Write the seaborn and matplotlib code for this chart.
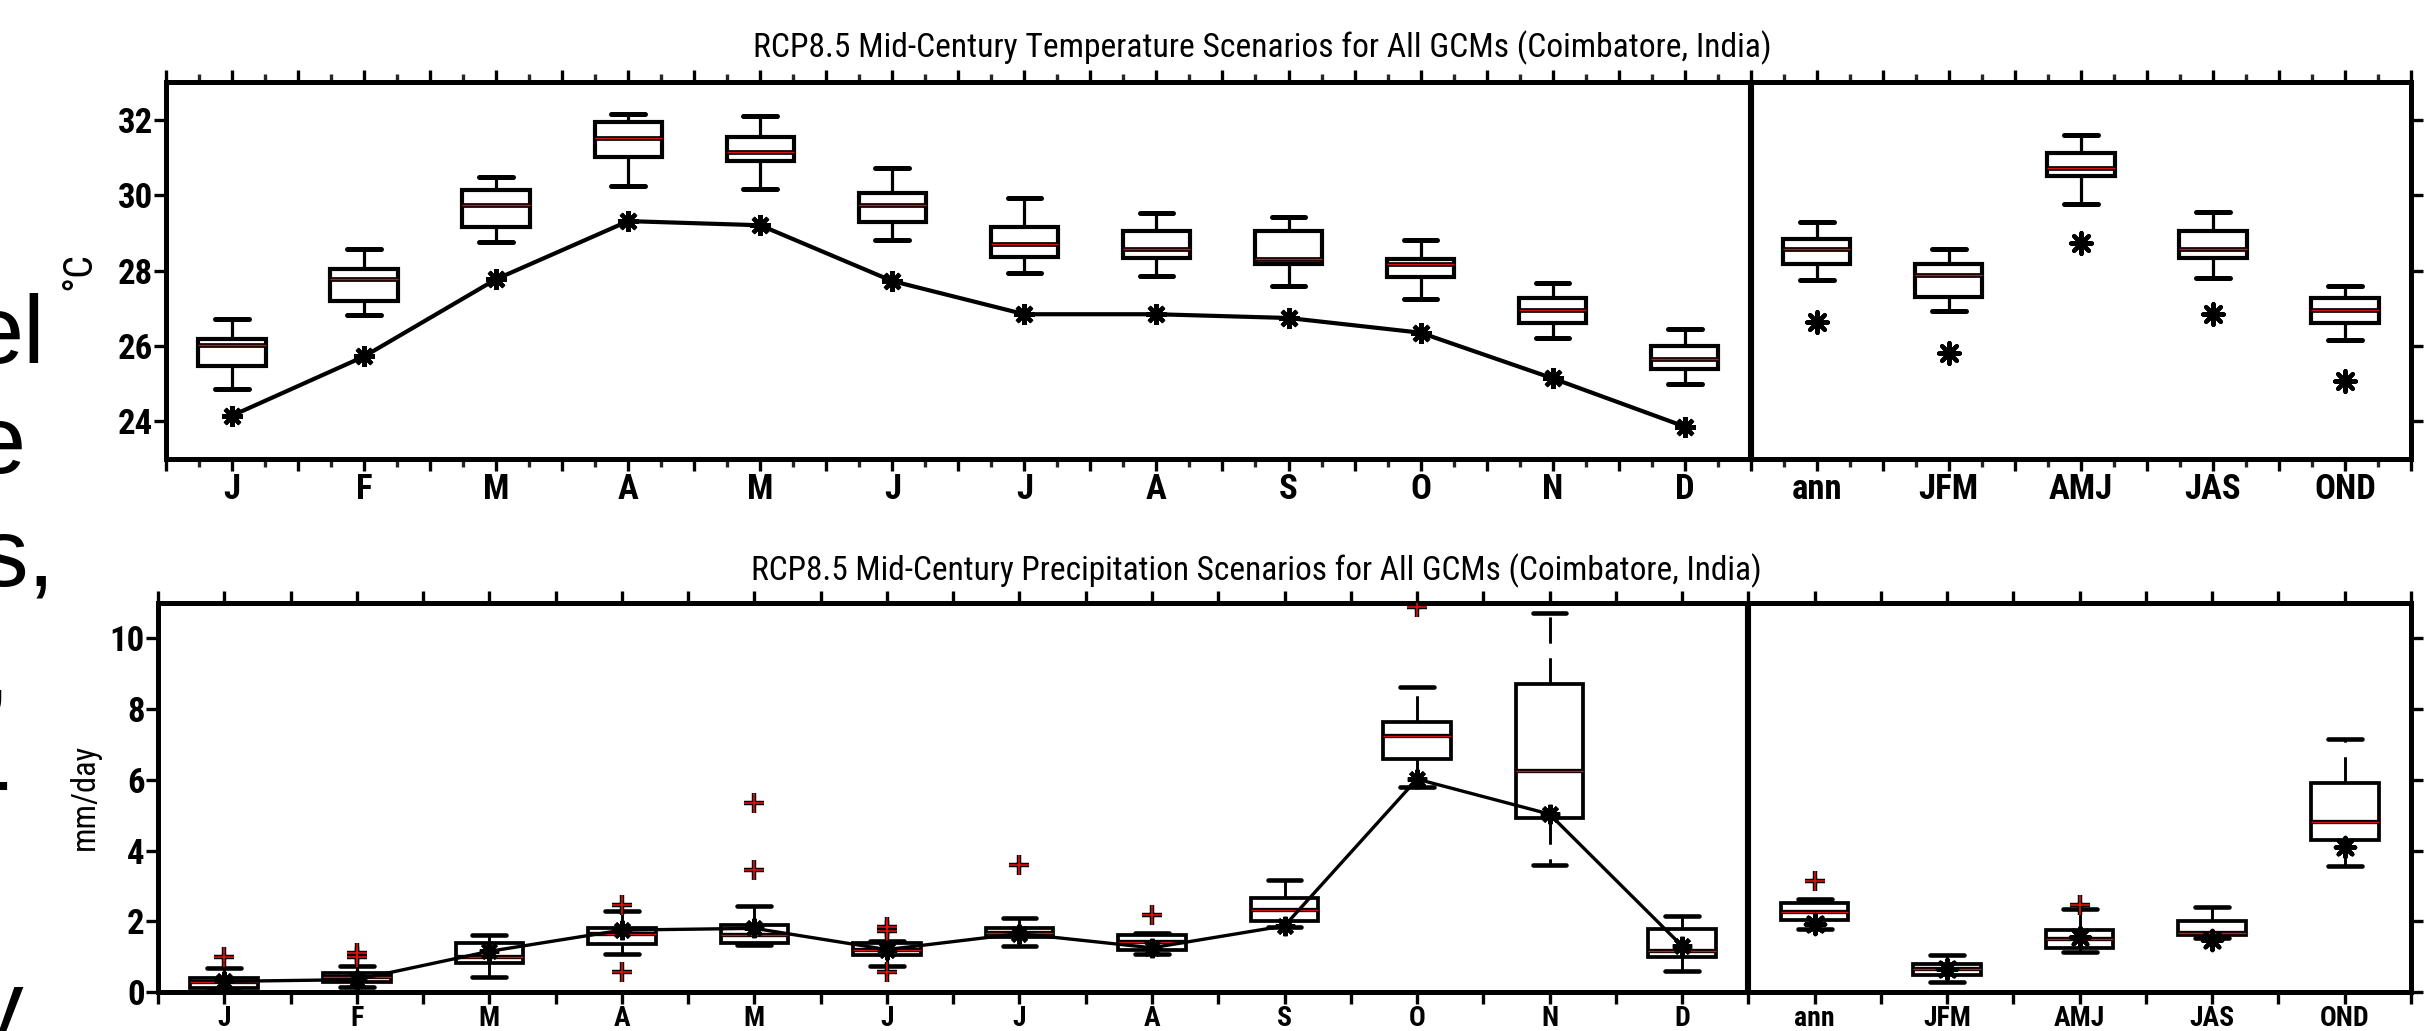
import numpy as np
import pandas as pd
import matplotlib
matplotlib.use("Agg")
import matplotlib.pyplot as plt
from matplotlib import font_manager as fm
import seaborn as sns

# ---------------------------------------------------------------- categories
categories = ["J", "F", "M", "A", "M", "J", "J", "A", "S", "O", "N", "D",
              "ann", "JFM", "AMJ", "JAS", "OND"]
n_months = 12

# ------------------------------------------- temperature (deg C), GCM spread
temp_lo = [24.85, 26.81, 28.76, 30.24, 30.16, 28.82, 27.93, 27.85, 27.59, 27.24, 26.20, 25.00,
           27.74, 26.92, 29.77, 27.80, 26.15]
temp_q1 = [25.46, 27.19, 29.15, 31.00, 30.91, 29.28, 28.36, 28.33, 28.17, 27.83, 26.60, 25.40,
           28.17, 27.31, 30.51, 28.33, 26.60]
temp_med = [26.02, 27.77, 29.74, 31.52, 31.13, 29.73, 28.70, 28.57, 28.30, 28.17, 26.94, 25.64,
            28.56, 27.88, 30.72, 28.56, 26.94]
temp_q3 = [26.18, 28.04, 30.14, 31.95, 31.53, 30.05, 29.15, 29.05, 29.05, 28.30, 27.27, 25.99,
           28.83, 28.17, 31.12, 29.05, 27.27]
temp_hi = [26.71, 28.57, 30.47, 32.15, 32.09, 30.73, 29.93, 29.52, 29.42, 28.81, 27.67, 26.44,
           29.29, 28.56, 31.60, 29.55, 27.59]
temp_obs = [24.15, 25.72, 27.77, 29.31, 29.20, 27.72, 26.84, 26.84, 26.74, 26.35, 25.14, 23.86,
            26.63, 25.80, 28.72, 26.84, 25.06]

# ------------------------------------------ precipitation (mm/day), GCM spread
prec_lo = [0.03, 0.14, 0.43, 1.08, 1.33, 0.73, 1.30, 1.08, 1.85, 5.79, 3.60, 0.58,
           1.79, 0.28, 1.13, 1.53, 3.57]
prec_q1 = [0.11, 0.27, 0.83, 1.35, 1.38, 1.06, 1.55, 1.20, 2.01, 6.58, 4.93, 0.99,
           2.04, 0.47, 1.25, 1.60, 4.29]
prec_med = [0.28, 0.43, 0.99, 1.65, 1.62, 1.20, 1.68, 1.40, 2.31, 7.24, 6.25, 1.17,
            2.27, 0.66, 1.50, 1.67, 4.81]
prec_q3 = [0.40, 0.53, 1.38, 1.81, 1.90, 1.38, 1.81, 1.60, 2.66, 7.63, 8.70, 1.78,
           2.53, 0.79, 1.74, 2.02, 5.91]
prec_hi = [0.68, 0.73, 1.60, 2.30, 2.42, 1.45, 2.09, 1.68, 3.18, 8.62, 10.72, 2.16,
           2.64, 1.06, 2.35, 2.41, 7.16]
prec_obs = [0.30, 0.35, 1.15, 1.75, 1.80, 1.20, 1.65, 1.25, 1.87, 6.02, 5.03, 1.30,
            1.92, 0.64, 1.55, 1.48, 4.09]
# outlying GCMs: category number (1-based) and value
prec_out_pos = [1, 2, 2, 4, 4, 5, 5, 6, 6, 6, 7, 8, 10, 13, 15]
prec_out_val = [0.98, 0.98, 1.10, 2.47, 0.56, 3.45, 5.35, 1.72, 1.85, 0.56, 3.60, 2.17, 10.90,
                3.15, 2.47]

temp_title = "RCP8.5 Mid-Century Temperature Scenarios for All GCMs (Coimbatore, India)"
prec_title = "RCP8.5 Mid-Century Precipitation Scenarios for All GCMs (Coimbatore, India)"

# ------------------------------------------------------------------- styling
sns.set_style("ticks")


def pick_narrow_font():
    """Return (family, stretch) of a narrow sans face if one is installed."""
    entries = fm.fontManager.ttflist
    names = {f.name for f in entries}
    for name in ["Liberation Sans Narrow", "Arial Narrow", "Roboto Condensed",
                 "Open Sans Condensed", "Noto Sans Condensed"]:
        if name in names:
            return name, "normal"
    for fam in ["Liberation Sans", "Noto Sans", "Roboto", "Open Sans", "DejaVu Sans"]:
        for st in ["condensed", "semi-condensed"]:
            if any(f.name == fam and f.stretch == st for f in entries):
                return fam, st
    return "Liberation Sans", "normal"


NARROW_FAMILY, NARROW_STRETCH = pick_narrow_font()
FAMILIES = [NARROW_FAMILY, "Liberation Sans", "DejaVu Sans"]
plt.rcParams["font.family"] = FAMILIES
plt.rcParams["font.stretch"] = NARROW_STRETCH

W, H = 2431, 1031
fig = plt.figure(figsize=(W / 100, H / 100), dpi=100)
fig.patch.set_facecolor("white")


def px_axes(left, top, right, bottom):
    return fig.add_axes([left / W, 1 - bottom / H, (right - left) / W, (bottom - top) / H])


ax_t = px_axes(166, 82, 2411, 459)
ax_p = px_axes(158, 603, 2411, 992)


def summary_frame(lo, q1, med, q3, hi):
    pos = np.arange(1, len(lo) + 1)
    return pd.DataFrame({
        "pos": np.repeat(pos, 5),
        "value": np.column_stack([lo, q1, med, q3, hi]).ravel(),
    })


def draw_boxes(ax, frame, lw_box, lw_whisk):
    common = dict(data=frame, x="pos", y="value", native_scale=True, width=0.51,
                  whis=(0, 100), showfliers=False, ax=ax)
    sns.boxplot(**common, fill=True, color="white", linecolor="black", linewidth=lw_box,
                whiskerprops=dict(linewidth=lw_whisk, linestyle=(0, (9, 5))),
                capprops=dict(linewidth=lw_box + 0.6),
                medianprops=dict(linewidth=lw_box + 0.4, color="black"))
    # thin red core on each median line
    sns.boxplot(**common, fill=True, color="white", linecolor="#d41414", linewidth=1.0,
                showbox=False, showcaps=False,
                whiskerprops=dict(linewidth=0),
                medianprops=dict(linewidth=1.0, color="#d41414"))


def draw_obs(ax, obs, lw, ms):
    month_pos = np.arange(1, n_months + 1)
    season_pos = np.arange(n_months + 1, len(categories) + 1)
    sns.lineplot(x=month_pos, y=obs[:n_months], ax=ax, color="black", linewidth=lw,
                 marker=(8, 2, 0), markersize=ms, markeredgewidth=3.0,
                 markeredgecolor="black", zorder=5)
    sns.scatterplot(x=season_pos, y=obs[n_months:], ax=ax, marker=(8, 2, 0),
                    s=ms ** 2, color="black", linewidth=3.0, zorder=5, legend=False)


def style_axes(ax, ylim, yticks, quarter_ticks, major_len, xlabel_size):
    ax.set_xlim(0.5, len(categories) + 0.5)
    ax.set_ylim(*ylim)
    ax.set_xlabel("")
    ax.set_ylabel("")
    halves = np.arange(0.5, len(categories) + 0.51, 0.5)
    ax.set_xticks(halves)
    ax.set_xticklabels([categories[int(h) - 1] if float(h).is_integer() else "" for h in halves])
    if quarter_ticks:
        ax.set_xticks(np.arange(0.75, len(categories) + 0.5, 0.5), minor=True)
    else:
        ax.set_xticks([], minor=True)
    ax.set_yticks(yticks)
    ax.set_yticklabels([str(v) for v in yticks])
    ax.tick_params(axis="x", which="major", direction="out", length=major_len, width=2.4,
                   top=True, bottom=True, labeltop=False, labelsize=xlabel_size, pad=1,
                   colors="black")
    ax.tick_params(axis="x", which="minor", direction="out", length=5.8, width=2.4,
                   top=True, bottom=True)
    ax.tick_params(axis="y", which="major", direction="out", length=8.6, width=2.4,
                   left=True, right=True, labelright=False, labelsize=25, pad=1, colors="black")
    for lab in ax.get_xticklabels() + ax.get_yticklabels():
        lab.set_fontweight("bold")
        lab.set_family(FAMILIES)
        lab.set_fontstretch(NARROW_STRETCH)
    for sp in ax.spines.values():
        sp.set_visible(True)
        sp.set_linewidth(3.6)
        sp.set_color("black")
    ax.axvline(n_months + 0.5, color="black", linewidth=4.4, zorder=6)
    ax.grid(False)


# ---------------------------------------------------------- temperature panel
draw_boxes(ax_t, summary_frame(temp_lo, temp_q1, temp_med, temp_q3, temp_hi), 3.0, 2.3)
draw_obs(ax_t, temp_obs, 3.0, 15)
style_axes(ax_t, (23, 33), [24, 26, 28, 30, 32], True, 8.8, 25)

# -------------------------------------------------------- precipitation panel
draw_boxes(ax_p, summary_frame(prec_lo, prec_q1, prec_med, prec_q3, prec_hi), 2.7, 2.1)
draw_obs(ax_p, prec_obs, 2.4, 14)
sns.scatterplot(x=prec_out_pos, y=prec_out_val, ax=ax_p, marker="+", s=220,
                color="black", linewidth=3.2, zorder=4, legend=False)
sns.scatterplot(x=prec_out_pos, y=prec_out_val, ax=ax_p, marker="+", s=220,
                color="#e01010", linewidth=1.2, zorder=4, legend=False)
style_axes(ax_p, (0, 11), [0, 2, 4, 6, 8, 10], False, 8.6, 20)


# ------------------------------------------------------------ titles, labels
def fitted_text(x_px, y_px, text, width_px, size, **kw):
    """Place a text and scale its font so that it spans width_px pixels."""
    t = fig.text(x_px / W, 1 - y_px / H, text, fontsize=size, family=FAMILIES,
                 fontstretch=NARROW_STRETCH, color="black", **kw)
    fig.canvas.draw()
    ext = t.get_window_extent()
    span = ext.height if kw.get("rotation") == 90 else ext.width
    t.set_fontsize(size * width_px / span)
    return t


fitted_text(1262, 48, temp_title, 1026, 23, ha="center", va="center")
fitted_text(1256, 571, prec_title, 1015, 23, ha="center", va="center")
fitted_text(79, 271, "°C", 38, 26, ha="center", va="center", rotation=90)
fitted_text(85, 797, "mm/day", 106, 18, ha="center", va="center", rotation=90)

# large slide text running in from the left margin
edge_words = ["el", "e", "s,", ",", "-", "y"]
edge_right = [46, 26, 55, 9, 11, 23]
edge_base = [363, 473, 586, 699, 812, 1038]
for word, xr, yb in zip(edge_words, edge_right, edge_base):
    fig.text(xr / W, 1 - yb / H, word, ha="right", va="baseline", fontsize=70,
             family=["Liberation Sans", "DejaVu Sans"], fontstretch="normal", color="black")

fig.savefig("out.png", dpi=100, facecolor="white")
